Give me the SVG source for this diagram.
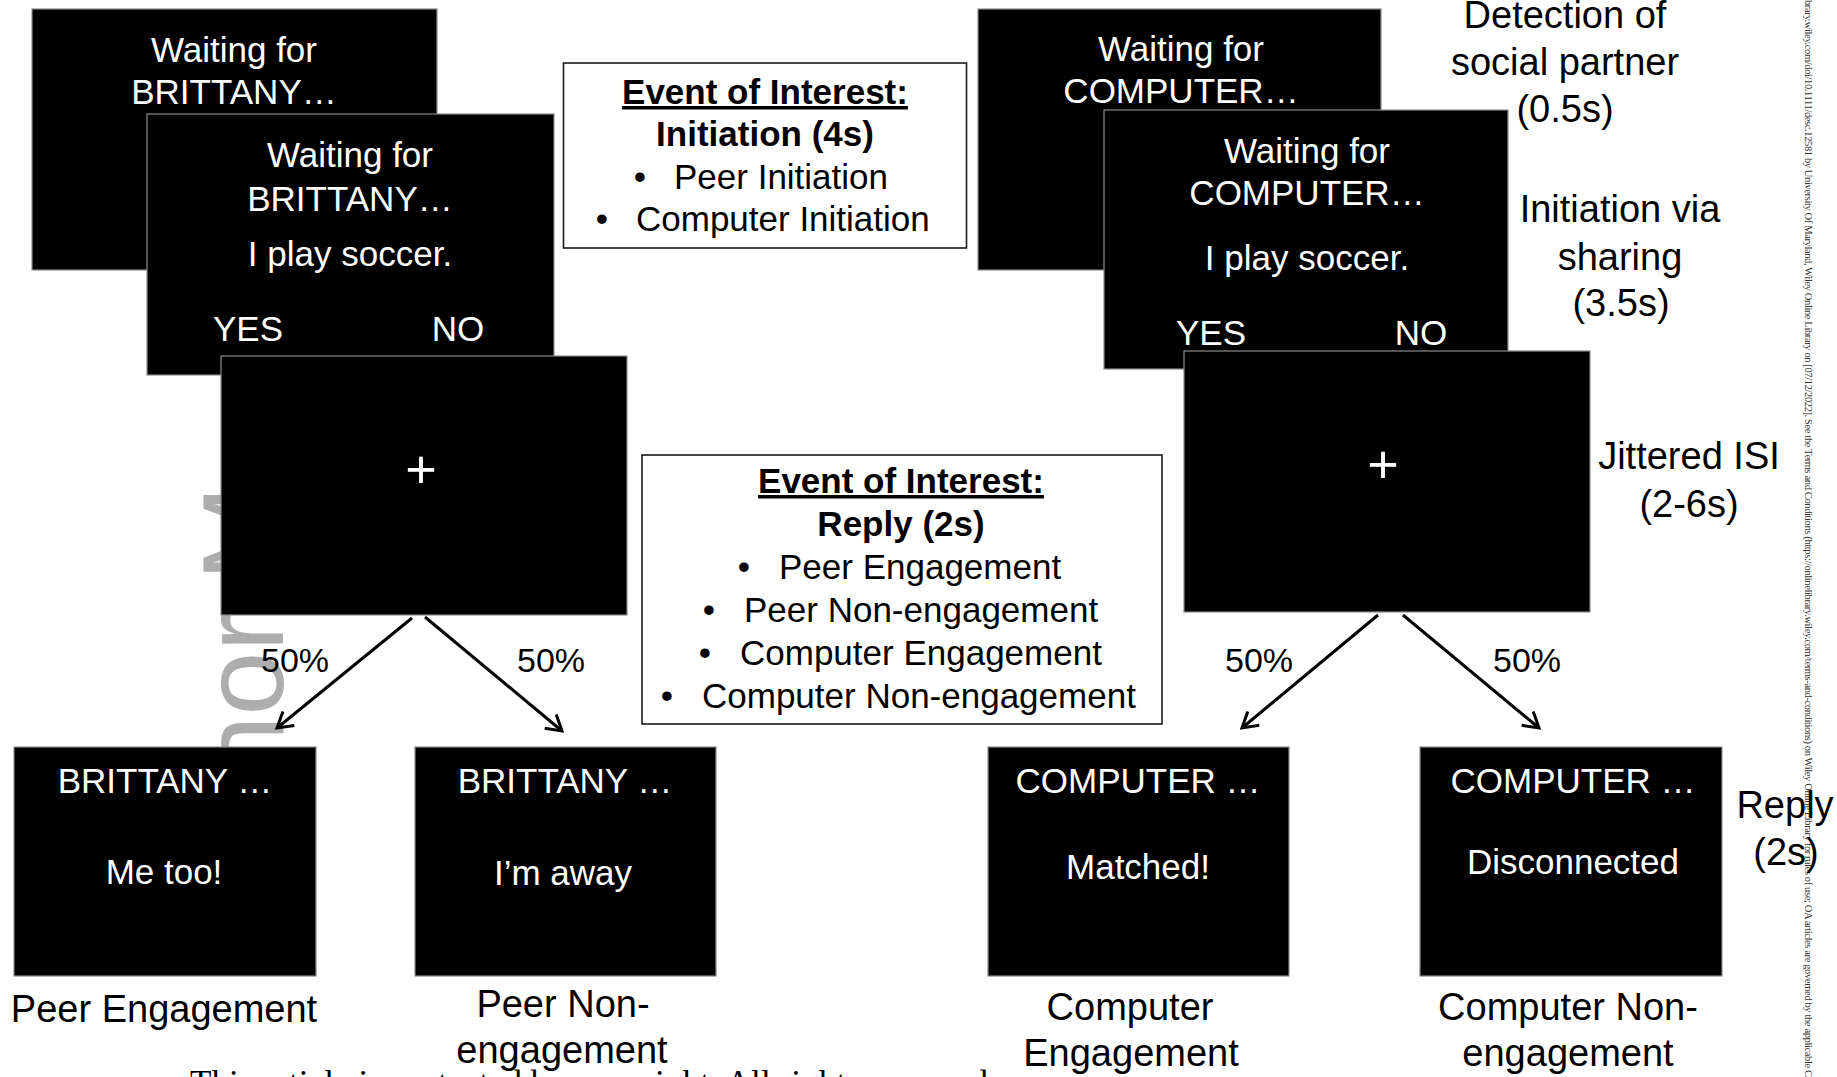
<svg xmlns="http://www.w3.org/2000/svg" width="1837" height="1077" viewBox="0 0 1837 1077">
<style>
text{font-family:"Liberation Sans",Arial,Helvetica,sans-serif}
.scr{fill:#000;stroke:#8a8a8a;stroke-width:1.2}
.st{font-size:35px;fill:#fff;text-anchor:middle}
.plus{font-size:54px;fill:#fff;text-anchor:middle}
.lbl{font-size:38px;fill:#000;text-anchor:middle}
.ev{fill:#fff;stroke:#1a1a1a;stroke-width:1.6}
.et{font-size:35px;fill:#000}
.eb{font-size:35px;fill:#000;font-weight:bold;text-anchor:middle}
.bul{text-anchor:middle}
.pct{font-size:34px;fill:#000;text-anchor:middle}
.arr{stroke:#000;stroke-width:3;fill:none;marker-end:url(#ah)}
.wm{font-size:115px;fill:#adadad}
.edge{font-family:"Liberation Serif","Times New Roman",serif;font-size:10.5px;fill:#333}
.foot{font-family:"Liberation Serif","Times New Roman",serif;font-size:35px;fill:#000}
</style>
<defs>
<marker id="ah" markerUnits="userSpaceOnUse" markerWidth="24" markerHeight="24" viewBox="-20 -12 24 24" refX="0" refY="0" orient="auto">
<path d="M-15,-9 L0,0 L-15,9" fill="none" stroke="#000" stroke-width="3"/>
</marker>
</defs>
<rect width="1837" height="1077" fill="#fff"/>

<!-- page artifacts -->
<text class="wm" transform="translate(283,952) rotate(-90)">Author Manuscript</text>
<text class="edge" transform="translate(1805,0) rotate(90)" textLength="1077" lengthAdjust="spacing">brary.wiley.com/doi/10.1111/desc.12581 by University Of Maryland, Wiley Online Library on [07/12/2022]. See the Terms and Conditions (https://onlinelibrary.wiley.com/terms-and-conditions) on Wiley Online Library for rules of use; OA articles are governed by the applicable C</text>
<text class="foot" x="190" y="1095" textLength="798" lengthAdjust="spacing">This article is protected by copyright. All rights reserved</text>

<!-- left (peer) sequence -->
<g id="peer-detect">
<rect class="scr" x="32" y="9" width="405" height="261"/>
<text class="st" x="234" y="62">Waiting for</text>
<text class="st" x="234" y="104">BRITTANY…</text>
</g>
<g id="peer-initiation">
<rect class="scr" x="147" y="114" width="407" height="261"/>
<text class="st" x="350" y="167">Waiting for</text>
<text class="st" x="350" y="211">BRITTANY…</text>
<text class="st" x="350" y="266">I play soccer.</text>
<text class="st" x="248" y="341">YES</text>
<text class="st" x="458" y="341">NO</text>
</g>
<g id="peer-isi">
<rect class="scr" x="221" y="356" width="406" height="259"/>
<text class="plus" x="421" y="488">+</text>
</g>

<!-- right (computer) sequence -->
<g id="computer-detect">
<rect class="scr" x="978" y="9" width="403" height="261"/>
<text class="st" x="1181" y="61">Waiting for</text>
<text class="st" x="1181" y="103">COMPUTER…</text>
</g>
<g id="computer-initiation">
<rect class="scr" x="1104" y="110" width="404" height="259"/>
<text class="st" x="1307" y="163">Waiting for</text>
<text class="st" x="1307" y="205">COMPUTER…</text>
<text class="st" x="1307" y="270">I play soccer.</text>
<text class="st" x="1211" y="345">YES</text>
<text class="st" x="1421" y="345">NO</text>
</g>
<g id="computer-isi">
<rect class="scr" x="1184" y="351" width="406" height="261"/>
<text class="plus" x="1383" y="483">+</text>
</g>

<!-- event of interest boxes -->
<g id="event-initiation">
<rect class="ev" x="563.5" y="63" width="403" height="185"/>
<text class="eb" x="765" y="104" text-decoration="underline">Event of Interest:</text>
<text class="eb" x="765" y="146">Initiation (4s)</text>
<text class="et bul" x="640" y="189">•</text>
<text class="et" x="674" y="189">Peer Initiation</text>
<text class="et bul" x="602" y="231">•</text>
<text class="et" x="636" y="231">Computer Initiation</text>
</g>
<g id="event-reply">
<rect class="ev" x="642" y="455" width="520" height="269"/>
<text class="eb" x="901" y="493" text-decoration="underline">Event of Interest:</text>
<text class="eb" x="901" y="536">Reply (2s)</text>
<text class="et bul" x="744" y="579">•</text>
<text class="et" x="779" y="579">Peer Engagement</text>
<text class="et bul" x="709" y="622">•</text>
<text class="et" x="744" y="622">Peer Non-engagement</text>
<text class="et bul" x="705" y="665">•</text>
<text class="et" x="740" y="665">Computer Engagement</text>
<text class="et bul" x="667" y="708">•</text>
<text class="et" x="702" y="708">Computer Non-engagement</text>
</g>

<!-- reply screens -->
<g id="peer-engagement">
<rect class="scr" x="14" y="747" width="302" height="229"/>
<text class="st" x="165" y="793">BRITTANY …</text>
<text class="st" x="164" y="884">Me too!</text>
<text class="lbl" x="164" y="1022">Peer Engagement</text>
</g>
<g id="peer-nonengagement">
<rect class="scr" x="415" y="747" width="301" height="229"/>
<text class="st" x="565" y="793">BRITTANY …</text>
<text class="st" x="563" y="885">I’m away</text>
<text class="lbl" x="563" y="1017">Peer Non-</text>
<text class="lbl" x="562" y="1063">engagement</text>
</g>
<g id="computer-engagement">
<rect class="scr" x="988" y="747" width="301" height="229"/>
<text class="st" x="1138" y="793">COMPUTER …</text>
<text class="st" x="1138" y="879">Matched!</text>
<text class="lbl" x="1130" y="1020">Computer</text>
<text class="lbl" x="1131" y="1066">Engagement</text>
</g>
<g id="computer-nonengagement">
<rect class="scr" x="1420" y="747" width="302" height="229"/>
<text class="st" x="1573" y="793">COMPUTER …</text>
<text class="st" x="1573" y="874">Disconnected</text>
<text class="lbl" x="1568" y="1020">Computer Non-</text>
<text class="lbl" x="1568" y="1066">engagement</text>
</g>

<!-- timing labels -->
<g id="timing-labels">
<text class="lbl" x="1565" y="28">Detection of</text>
<text class="lbl" x="1565" y="75">social partner</text>
<text class="lbl" x="1565" y="122">(0.5s)</text>
<text class="lbl" x="1620" y="222">Initiation via</text>
<text class="lbl" x="1620" y="270">sharing</text>
<text class="lbl" x="1621" y="316">(3.5s)</text>
<text class="lbl" x="1689" y="469">Jittered ISI</text>
<text class="lbl" x="1689" y="517">(2-6s)</text>
<text class="lbl" x="1785" y="818">Reply</text>
<text class="lbl" x="1786" y="865">(2s)</text>
</g>

<!-- connectors -->
<g id="connectors">
<line class="arr" x1="412" y1="618" x2="277" y2="728"/>
<line class="arr" x1="425" y1="617" x2="562" y2="731"/>
<line class="arr" x1="1378" y1="615" x2="1242" y2="728"/>
<line class="arr" x1="1403" y1="615" x2="1539" y2="728"/>
<text class="pct" x="295" y="672">50%</text>
<text class="pct" x="551" y="672">50%</text>
<text class="pct" x="1259" y="672">50%</text>
<text class="pct" x="1527" y="672">50%</text>
</g>
</svg>
